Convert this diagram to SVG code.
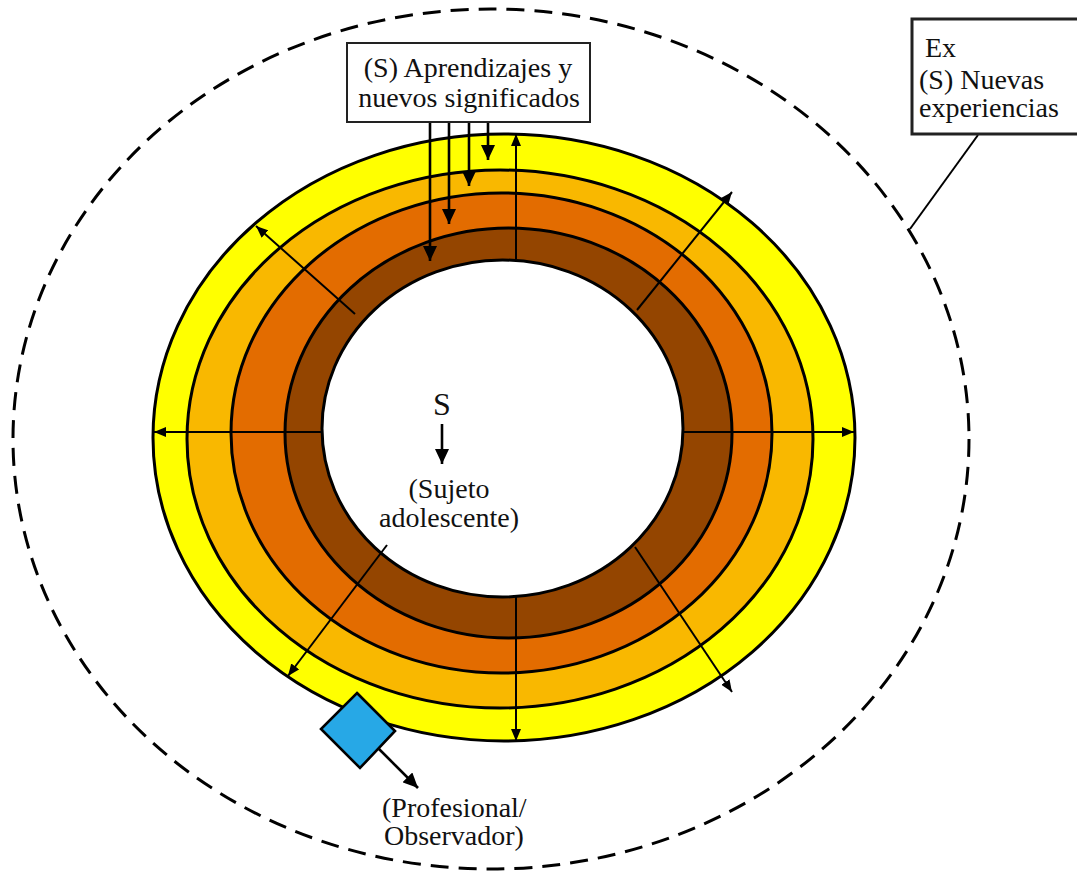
<svg xmlns="http://www.w3.org/2000/svg" width="1077" height="873" viewBox="0 0 1077 873">
  <defs>
    <marker id="arrS" markerUnits="userSpaceOnUse" markerWidth="12" markerHeight="10" refX="12" refY="5" orient="auto">
      <path d="M0,0 L12,5 L0,10 z" fill="#000"/>
    </marker>
    <marker id="arrL" markerUnits="userSpaceOnUse" markerWidth="15" markerHeight="14" refX="15" refY="7" orient="auto">
      <path d="M0,0 L15,7 L0,14 z" fill="#000"/>
    </marker>
    <style>
      .ring { stroke: #000; stroke-width: 3; }
      .radial { stroke: #000; stroke-width: 2; fill: none; marker-end: url(#arrS); }
      .down { stroke: #000; stroke-width: 2.6; fill: none; marker-end: url(#arrL); }
      .lbl { font-family: "Liberation Serif", "Times New Roman", serif; font-size: 28px; fill: #111; }
      .box { fill: #fff; stroke: #222; }
    </style>
  </defs>
  <rect width="1077" height="873" fill="#fff"/>

  <g id="outer-boundary">
    <ellipse cx="491" cy="439" rx="478" ry="430" fill="none" stroke="#000" stroke-width="3" stroke-dasharray="18 10"/>
  </g>

  <g id="rings">
    <ellipse id="ring-yellow" class="ring" cx="504" cy="437.5" rx="351" ry="303.5" fill="#FFFF00"/>
    <ellipse id="ring-light-orange" class="ring" cx="500" cy="439" rx="313" ry="269" fill="#F9B800"/>
    <ellipse id="ring-orange" class="ring" cx="501.5" cy="433" rx="270.5" ry="240" fill="#E36C00"/>
    <ellipse id="ring-brown" class="ring" cx="508.5" cy="433" rx="223.5" ry="205" fill="#944500"/>
    <ellipse id="core" class="ring" cx="502.5" cy="428.5" rx="180.5" ry="168.5" fill="#fff"/>
  </g>

  <g id="connectors">
    <line class="radial" x1="516" y1="259" x2="516" y2="134"/>
    <line class="radial" x1="516" y1="597" x2="516" y2="741"/>
    <line class="radial" x1="322" y1="432" x2="154" y2="432"/>
    <line class="radial" x1="683" y1="432" x2="854" y2="432"/>
    <line class="radial" x1="355" y1="314" x2="256" y2="226"/>
    <line class="radial" x1="637" y1="310" x2="732" y2="192"/>
    <line class="radial" x1="635" y1="547" x2="732" y2="692"/>
    <line class="radial" x1="387" y1="545" x2="288" y2="676"/>

    <line class="down" x1="430" y1="122" x2="430" y2="261"/>
    <line class="down" x1="449" y1="122" x2="449" y2="224"/>
    <line class="down" x1="469" y1="122" x2="469" y2="186"/>
    <line class="down" x1="488" y1="122" x2="488" y2="160"/>

    <line class="down" x1="442" y1="424" x2="442" y2="464"/>
    <line class="down" x1="378" y1="748" x2="418" y2="788" stroke-width="3"/>
    <line x1="978" y1="135" x2="910" y2="229" stroke="#000" stroke-width="2"/>
  </g>

  <g id="node-aprendizajes">
    <rect class="box" x="347" y="43" width="243" height="79" stroke-width="2"/>
    <text class="lbl" x="468" y="77" text-anchor="middle">(S) Aprendizajes y</text>
    <text class="lbl" x="469" y="107" text-anchor="middle">nuevos significados</text>
  </g>

  <g id="node-experiencias">
    <rect class="box" x="912" y="19" width="180" height="115" stroke="#000" stroke-width="3"/>
    <text class="lbl" x="925" y="57">Ex</text>
    <text class="lbl" x="919" y="89">(S) Nuevas</text>
    <text class="lbl" x="919" y="117">experiencias</text>
  </g>

  <g id="node-sujeto">
    <text class="lbl" x="442" y="415" text-anchor="middle" style="font-size:32px">S</text>
    <text class="lbl" x="449" y="498" text-anchor="middle">(Sujeto</text>
    <text class="lbl" x="449" y="527" text-anchor="middle">adolescente)</text>
  </g>

  <g id="node-profesional">
    <polygon points="357,693 395,731 360,768 321,729" fill="#27A8E6" stroke="#000" stroke-width="2.6"/>
    <text class="lbl" x="382" y="817">(Profesional/</text>
    <text class="lbl" x="384" y="845">Observador)</text>
  </g>
</svg>
